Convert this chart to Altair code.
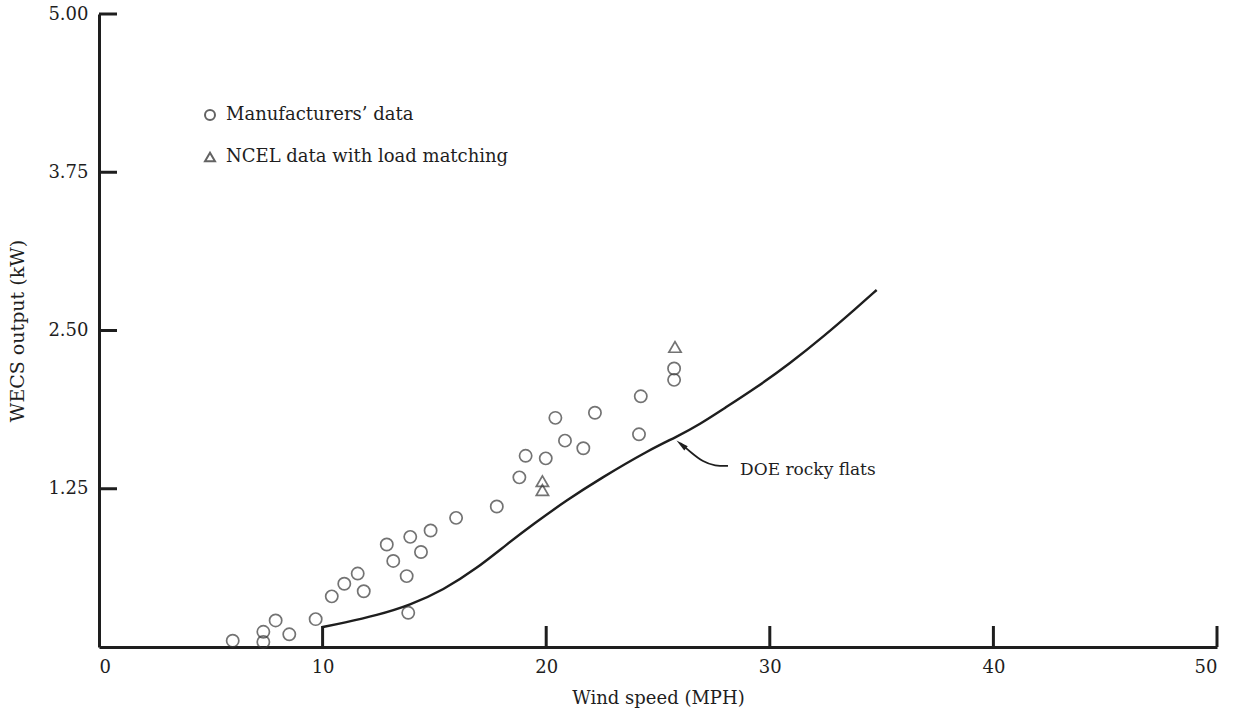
import altair as alt
import pandas as pd

# Manufacturers' data (open circles)
mfr_speed = [5.98, 7.35, 7.35, 7.90, 8.51, 9.69, 10.41, 10.97, 11.57, 11.84,
             12.87, 13.16, 13.76, 13.83, 13.92, 14.40, 14.83, 15.97, 17.79, 18.80,
             19.08, 19.98, 20.41, 20.84, 21.66, 22.18, 24.15, 24.23, 25.72, 25.72]
mfr_kw = [0.05, 0.12, 0.04, 0.21, 0.10, 0.22, 0.40, 0.50, 0.58, 0.44,
          0.81, 0.68, 0.56, 0.27, 0.87, 0.75, 0.92, 1.02, 1.11, 1.34,
          1.51, 1.49, 1.81, 1.63, 1.57, 1.85, 1.68, 1.98, 2.20, 2.11]

# NCEL data with load matching (open triangles)
ncel_speed = [19.83, 19.83, 25.76]
ncel_kw = [1.31, 1.24, 2.37]

# DOE rocky flats curve
doe_speed = [9.96, 10.93, 12.42, 13.91, 15.40, 16.89, 18.23, 19.42, 20.92, 22.41,
             24.64, 25.84, 26.88, 27.92, 29.41, 30.90, 32.39, 33.89, 34.78]
doe_kw = [0.156, 0.19, 0.25, 0.33, 0.45, 0.62, 0.81, 0.97, 1.16, 1.33,
          1.56, 1.66, 1.76, 1.88, 2.05, 2.24, 2.45, 2.68, 2.82]

series_names = ["Manufacturers\u2019 data", "NCEL data with load matching"]
x_labels = [0, 10, 20, 30, 40, 50]
x_tick_marks = [10, 20, 30, 40, 50]
y_labels = [1.25, 2.50, 3.75, 5.00]

annot_text = ["DOE rocky flats"]
annot_x = [28.67]
annot_y = [1.40]
arrow_x = [28.13, 27.55, 27.02, 26.45, 26.0]
arrow_y = [1.43, 1.43, 1.46, 1.54, 1.61]
arrowhead_x = [26.04]
arrowhead_y = [1.60]

W, H = 1118, 633
FONT = "DejaVu Serif"
INK = "#1e1e1e"

pts = pd.DataFrame({
    "speed": mfr_speed + ncel_speed,
    "kw": mfr_kw + ncel_kw,
    "series": [series_names[0]] * len(mfr_speed) + [series_names[1]] * len(ncel_speed),
})
curve = pd.DataFrame({"speed": doe_speed, "kw": doe_kw})
xt = pd.DataFrame({"speed": x_tick_marks})
yt = pd.DataFrame({"kw": y_labels})
ann = pd.DataFrame({"speed": annot_x, "kw": annot_y, "t": annot_text})
arr = pd.DataFrame({"speed": arrow_x, "kw": arrow_y, "o": list(range(len(arrow_x)))})
head = pd.DataFrame({"speed": arrowhead_x, "kw": arrowhead_y})

xs = alt.Scale(domain=[0, 50], nice=False, zero=False)
ys = alt.Scale(domain=[0, 5], nice=False, zero=False)

x_axis = alt.Axis(values=x_labels, format="d", ticks=False, tickSize=0, grid=False,
                  domainColor=INK, domainWidth=3, labelPadding=11,
                  labelFont=FONT, labelFontSize=18, labelColor=INK,
                  title="Wind speed (MPH)", titleFont=FONT, titleFontSize=18,
                  titleFontWeight="normal", titleColor=INK, titlePadding=13)
y_axis = alt.Axis(values=y_labels, format=".2f", ticks=False, tickSize=0, grid=False,
                  domainColor=INK, domainWidth=3, labelPadding=11,
                  labelFont=FONT, labelFontSize=18, labelColor=INK,
                  title="WECS output (kW)", titleFont=FONT, titleFontSize=19,
                  titleFontWeight="normal", titleColor=INK, titlePadding=20)


def X():
    return alt.X("speed:Q", scale=xs, axis=x_axis)


def Y():
    return alt.Y("kw:Q", scale=ys, axis=y_axis)


points = alt.Chart(pts).mark_point(filled=False, size=150, strokeWidth=1.7, color="#383838").encode(
    x=X(), y=Y(),
    shape=alt.Shape("series:N",
                    scale=alt.Scale(domain=series_names, range=["circle", "triangle-up"]),
                    legend=alt.Legend(title=None, orient="none", legendX=102, legendY=92,
                                      labelFont=FONT, labelFontSize=18, labelColor=INK,
                                      labelLimit=0,
                                      symbolSize=100, symbolStrokeWidth=2,
                                      symbolStrokeColor="#222222",
                                      rowPadding=24, labelOffset=7, padding=0)),
)

line = alt.Chart(curve).mark_line(color=INK, strokeWidth=2.4, interpolate="basis").encode(
    x=X(), y=Y(),
)

xticks = alt.Chart(xt).mark_rule(color=INK, strokeWidth=3).encode(
    x=X(),
    y=alt.value(H),
    y2=alt.value(H - 21),
)
yticks = alt.Chart(yt).mark_rule(color=INK, strokeWidth=3).encode(
    y=Y(),
    x=alt.value(0),
    x2=alt.value(18),
)

arrow_line = alt.Chart(arr).mark_line(color=INK, strokeWidth=1.7, interpolate="basis").encode(
    x=X(), y=Y(),
    order="o:Q",
)
arrow_head = alt.Chart(head).mark_point(shape="M0,-1L0.45,1L-0.45,1Z", filled=True, size=150,
                                        angle=309, color=INK, opacity=1).encode(
    x=X(), y=Y(),
)
label = alt.Chart(ann).mark_text(align="left", baseline="middle", font=FONT, fontSize=17,
                                 color=INK).encode(
    x=X(), y=Y(),
    text="t:N",
)

chart = alt.layer(points, line, xticks, yticks, arrow_line, arrow_head, label).properties(
    width=W, height=H,
    padding={"left": 99, "top": 14, "right": 23, "bottom": 68},
    autosize=alt.AutoSizeParams(type="none"),
    background="white",
).configure_view(stroke=None)

chart.save("out.html", embed_options={"renderer": "svg", "actions": False})
